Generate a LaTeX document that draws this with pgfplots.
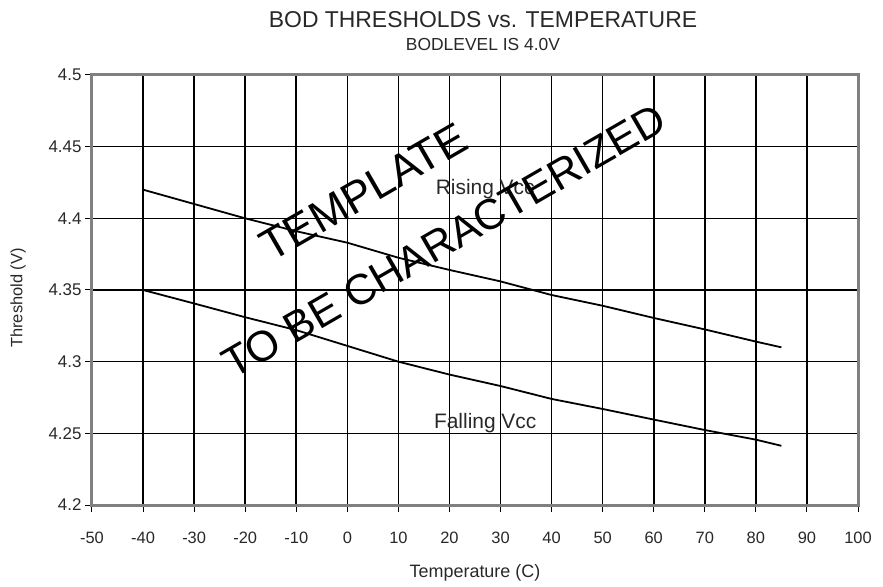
\documentclass[border=0pt]{standalone}
\usepackage{fontspec}
\setmainfont{Liberation Sans}
\usepackage{pgfplots}
\pgfplotsset{compat=1.18}

\definecolor{frame}{RGB}{128,128,128}
\definecolor{txt}{RGB}{40,40,40}

\begin{document}
\begin{tikzpicture}
	\begin{axis}[
			scale only axis,
			width=766bp, height=430bp,
			xmin=-50, xmax=100,
			ymin=4.2, ymax=4.5,
			xtick={-50,-40,-30,-20,-10,0,10,20,30,40,50,60,70,80,90,100},
			ytick={4.2,4.25,4.3,4.35,4.4,4.45,4.5},
			yticklabels={4.2,4.25,4.3,4.35,4.4,4.45,4.5},
			/pgf/number format/assume math mode=true,
			grid=major,
			major grid style={black, line width=1.6bp},
			axis line style={draw=frame, line width=3bp},
			tick pos=left,
			tick align=outside,
			major tick length=7bp,
			tick style={black, line width=1bp},
			xticklabel style={font=\fontsize{16.5}{16.5}\selectfont, text=txt, yshift=-16bp},
			yticklabel style={font=\fontsize{17}{17}\selectfont, text=txt},
			every axis x label/.style={at={(axis description cs:0.5,0)}, anchor=base, yshift=-72bp,
				font=\fontsize{18}{18}\selectfont, text=txt},
			every axis y label/.style={at={(axis description cs:0,0.5)}, xshift=-74bp, yshift=-8bp,
				anchor=center, rotate=90, font=\fontsize{16.5}{16.5}\selectfont, text=txt},
			xlabel={Temperature (C)},
			ylabel={Threshold (V)},
			clip=false,
		]

		% Rising Vcc
		\addplot[black, line width=1.8bp] coordinates {
			(-40,4.420) (-30,4.410) (-20,4.400) (-10,4.391) (0,4.383)
			(10,4.3725) (20,4.364) (30,4.356) (40,4.3465) (50,4.339)
			(60,4.3305) (70,4.3225) (80,4.314) (85,4.310)
		};

		% Falling Vcc
		\addplot[black, line width=1.8bp] coordinates {
			(-40,4.350) (-30,4.3406) (-20,4.331) (-10,4.322) (0,4.311)
			(10,4.300) (20,4.291) (30,4.283) (40,4.274) (50,4.267)
			(60,4.2596) (70,4.2523) (80,4.2456) (85,4.2413)
		};

		\node[anchor=base, text=txt, font=\fontsize{21}{21}\selectfont] at (axis cs:27,4.4163) {Rising Vcc};
		\node[anchor=base, text=txt, font=\fontsize{21}{21}\selectfont] at (axis cs:27,4.2537) {Falling Vcc};

		\coordinate (o) at (rel axis cs:0,0);
	\end{axis}

	% titles
	\node[anchor=base, font=\fontsize{23}{23}\selectfont, text=txt] at ([shift={(391bp,477bp)}]o) {BOD THRESHOLDS vs. TEMPERATURE};
	\node[anchor=base, font=\fontsize{17.5}{17.5}\selectfont, text=txt] at ([shift={(391bp,454bp)}]o) {BODLEVEL IS 4.0V};

	% watermark
	\node[anchor=base west, inner sep=0pt, rotate=30, font=\fontsize{44.5}{44.5}\selectfont] at ([shift={(179bp,242bp)}]o) {TEMPLATE};
	\node[anchor=base west, inner sep=0pt, rotate=30, font=\fontsize{43}{43}\selectfont] at ([shift={(141bp,125bp)}]o) {TO BE CHARACTERIZED};

	\path ([shift={(-92bp,-82bp)}]o) rectangle ++(883bp,587bp);
\end{tikzpicture}
\end{document}
